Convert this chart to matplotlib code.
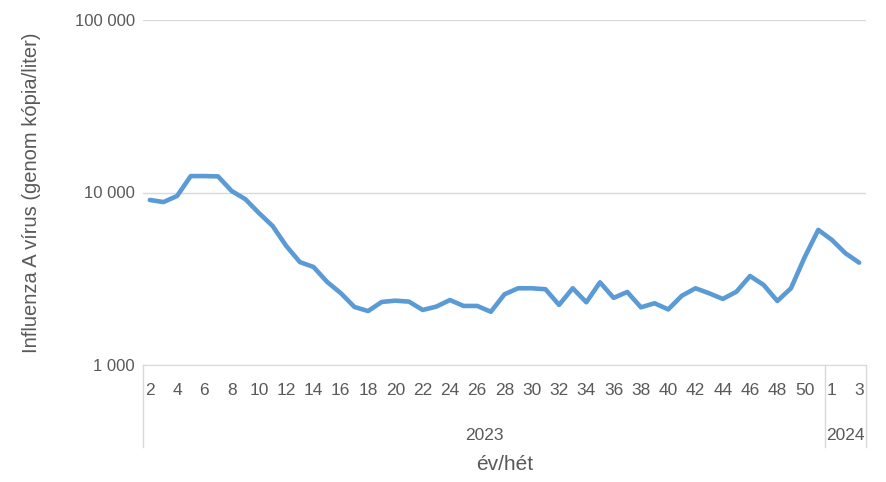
import matplotlib.pyplot as plt
from matplotlib.ticker import FixedLocator, FuncFormatter, NullLocator
import matplotlib.transforms as mtransforms

# ===== DỮ LIỆU =====
het_2023 = list(range(2, 52))          # 2023: hét 2..51
het_2024 = [1, 2, 3]                   # 2024: hét 1..3
ertek_2023 = [9050, 8800, 9550, 12450, 12450, 12400, 10200, 9150, 7600, 6400,
              4900, 3950, 3700, 3030, 2610, 2170, 2055, 2320, 2360, 2330,
              2085, 2180, 2380, 2200, 2200, 2035, 2570, 2785, 2785, 2750,
              2230, 2785, 2310, 3015, 2450, 2650, 2160, 2280, 2100, 2520,
              2785, 2605, 2415, 2660, 3280, 2910, 2350, 2785, 4210, 6070]
ertek_2024 = [5310, 4440, 3920]
evek = ["2023", "2024"]

het = het_2023 + het_2024
ertek = ertek_2023 + ertek_2024
x = list(range(len(het)))

SZURKE = "#595959"
RACS = "#D9D9D9"
plt.rcParams['font.family'] = ['Liberation Sans', 'DejaVu Sans']

fig = plt.figure(figsize=(8.86, 4.82), dpi=100)
ax = fig.add_axes([143 / 886, 1 - 365 / 482, (866 - 143) / 886, (365 - 20) / 482])

# vonal
ax.plot(x, ertek, color="#5B9BD5", lw=3.3, solid_joinstyle="round", solid_capstyle="round")

# y tengely (log)
ax.set_yscale("log")
ax.set_ylim(1000, 100000)
ax.yaxis.set_major_locator(FixedLocator([1000, 10000, 100000]))
ax.yaxis.set_minor_locator(NullLocator())
ax.yaxis.set_major_formatter(FuncFormatter(lambda v, p: f"{int(v):,}".replace(",", " ")))
ax.grid(axis="y", color=RACS, lw=1)
ax.set_axisbelow(True)
ax.tick_params(axis="y", length=0, labelsize=12, labelcolor=SZURKE, pad=6)
ax.set_ylabel("Influenza A vírus (genom kópia/liter)", fontsize=14.5, color=SZURKE)
ax.yaxis.set_label_coords((41 - 143) / 723, 0.5)

# x tengely
ax.set_xlim(-0.5, len(het) - 0.5)
ticks = x[::2]
ax.set_xticks(ticks)
ax.set_xticklabels([str(het[i]) for i in ticks])
ax.tick_params(axis="x", length=0, labelsize=12.5, labelcolor=SZURKE, pad=13)

for s in ["top", "right", "left"]:
    ax.spines[s].set_visible(False)
ax.spines["bottom"].set_color(RACS)

# év szint + elválasztók
trans = mtransforms.blended_transform_factory(ax.transData, ax.transAxes)
also = -(447 - 365) / 345
hatarok = [-0.5, len(het_2023) - 0.5, len(het) - 0.5]
for h in hatarok:
    ax.plot([h, h], [0, also], transform=trans, color=RACS, lw=1, clip_on=False)
ax.text((hatarok[0] + hatarok[1]) / 2, -(435 - 365) / 345, evek[0], transform=trans,
        ha="center", va="center", fontsize=12.5, color=SZURKE)
ax.text((hatarok[1] + hatarok[2]) / 2, -(435 - 365) / 345, evek[1], transform=trans,
        ha="center", va="center", fontsize=12.5, color=SZURKE)

ax.text(0.5, -(465 - 365) / 345, "év/hét", transform=ax.transAxes,
        ha="center", va="center", fontsize=15, color=SZURKE)

fig.savefig("out.png", dpi=100)
